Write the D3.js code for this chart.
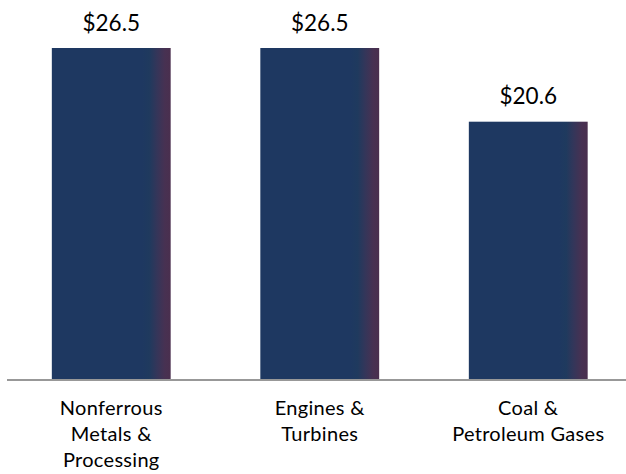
<!DOCTYPE html>
<html><head><meta charset="utf-8">
<script src="https://cdn.jsdelivr.net/npm/d3@7"></script>
<style>html,body{margin:0;padding:0;background:#fff;}svg{display:block;}</style>
</head><body>
<script>
const categories = ["Nonferrous Metals & Processing", "Engines & Turbines", "Coal & Petroleum Gases"];
const categoryLines = [["Nonferrous", "Metals &", "Processing"], ["Engines &", "Turbines"], ["Coal &", "Petroleum Gases"]];
const values = [26.5, 26.5, 20.6];
const valueLabels = ["$26.5", "$26.5", "$20.6"];

const W = 626, H = 474;
const svg = d3.select("body").append("svg").attr("width", W).attr("height", H);

const x = d3.scaleBand().domain(categories).range([7, 632.5]).paddingInner(0.43).paddingOuter(0.215);
const y = d3.scaleLinear().domain([0, 26.5]).range([379, 48]);

const defs = svg.append("defs");
const g = defs.append("linearGradient").attr("id", "barGrad").attr("x1", "0").attr("x2", "1").attr("y1", "0").attr("y2", "0");
[[0, "#1e3861"], [0.76, "#1e3861"], [0.82, "#1f3a5e"], [0.88, "#33365a"], [0.95, "#473152"], [1, "#4a2f4e"]]
  .forEach(([o, c]) => g.append("stop").attr("offset", o).attr("stop-color", c));

svg.selectAll("rect.bar").data(values).join("rect").attr("class", "bar")
  .attr("x", (d, i) => x(categories[i]))
  .attr("y", d => y(d))
  .attr("width", x.bandwidth())
  .attr("height", d => y(0) - y(d))
  .attr("fill", "url(#barGrad)");

svg.append("line").attr("x1", 7).attr("x2", W).attr("y1", 380).attr("y2", 380)
  .attr("stroke", "#989898").attr("stroke-width", 2);

svg.selectAll("text.val").data(values).join("text").attr("class", "val")
  .attr("x", (d, i) => x(categories[i]) + x.bandwidth() / 2)
  .attr("y", d => y(d) - 17.5)
  .attr("text-anchor", "middle")
  .attr("font-family", "Lato, 'Open Sans', sans-serif")
  .attr("font-size", 22.5).attr("fill", "#000")
  .text((d, i) => valueLabels[i]);

const labels = svg.selectAll("text.cat").data(categories).join("text").attr("class", "cat")
  .attr("text-anchor", "middle")
  .attr("font-family", "Lato, 'Open Sans', sans-serif")
  .attr("font-size", 20).attr("letter-spacing", 0.3).attr("fill", "#000");
labels.each(function (d, i) {
  const cx = x(d) + x.bandwidth() / 2;
  d3.select(this).selectAll("tspan").data(categoryLines[i]).join("tspan")
    .attr("x", cx).attr("y", (t, j) => 414.5 + j * 26).text(t => t);
});
</script>
</body></html>
